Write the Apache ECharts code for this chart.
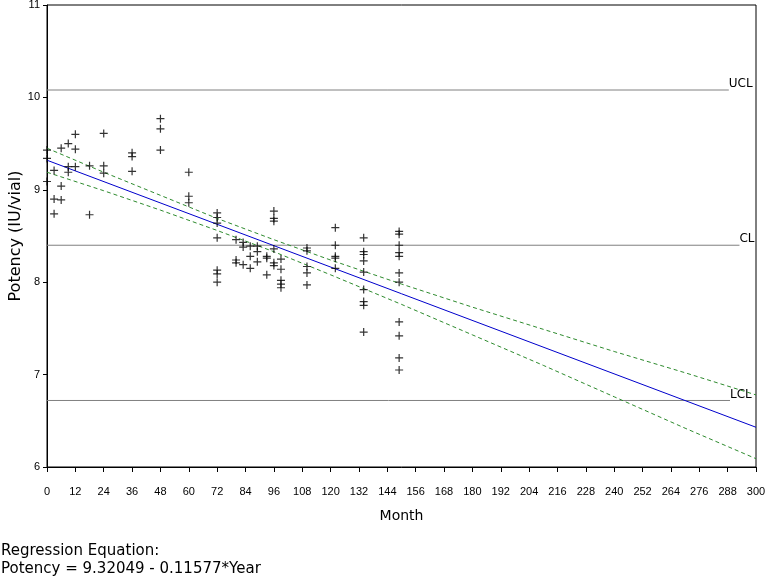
<!DOCTYPE html>
<html>
<head>
<meta charset="utf-8">
<script src="https://cdn.jsdelivr.net/npm/echarts@6/dist/echarts.min.js"></script>
<style>html,body{margin:0;padding:0;background:#fff;}#c{width:768px;height:576px;}</style>
</head>
<body>
<div id="c"></div>
<script>
// Observed potency measurements [month, IU/vial]
const observations = [
  [0,9.43],[0,9.34],[0,9.09],
  [3,9.21],[3,8.90],[3,8.74],
  [6,9.45],[6,9.04],[6,8.89],
  [9,9.50],[9,9.25],[9,9.19],
  [12,9.60],[12,9.44],[12,9.25],
  [18,9.26],[18,8.73],
  [24,9.61],[24,9.26],[24,9.18],
  [36,9.40],[36,9.36],[36,9.20],
  [48,9.77],[48,9.66],[48,9.43],
  [60,9.19],[60,8.93],[60,8.86],
  [72,8.75],[72,8.70],[72,8.64],[72,8.48],[72,8.13],[72,8.09],[72,8.00],
  [80,8.46],[80,8.24],[80,8.21],
  [83,8.43],[83,8.38],[83,8.19],
  [86,8.39],[86,8.28],[86,8.15],
  [89,8.39],[89,8.33],[89,8.22],
  [93,8.28],[93,8.26],[93,8.08],
  [96,8.77],[96,8.69],[96,8.66],[96,8.36],[96,8.21],[96,8.18],
  [99,8.25],[99,8.14],[99,8.02],[99,7.98],[99,7.94],
  [110,8.37],[110,8.34],[110,8.17],[110,8.10],[110,7.97],
  [122,8.59],[122,8.40],[122,8.28],[122,8.26],[122,8.15],
  [134,8.48],[134,8.33],[134,8.30],[134,8.23],[134,8.11],[134,7.92],[134,7.79],[134,7.75],[134,7.46],
  [149,8.55],[149,8.52],[149,8.40],[149,8.32],[149,8.28],[149,8.10],[149,8.00],[149,7.57],[149,7.42],[149,7.18],[149,7.05]
];
// Regression line endpoints
const fitLine = [[0,9.32],[300,6.43]];
// Confidence band
const bandMonths = [0,24,48,72,96,120,150,180,210,240,270,300];
const bandUpper  = [9.45,9.19,8.94,8.69,8.46,8.24,7.98,7.73,7.49,7.25,7.02,6.78];
const bandLower  = [9.19,8.99,8.78,8.56,8.33,8.08,7.76,7.43,7.10,6.76,6.42,6.09];
// Control limits
const limitNames  = ['UCL','CL','LCL'];
const limitValues = [10.08, 8.40, 6.72];
const xTicks = {min:0, max:300, interval:12};
const yTicks = {min:6, max:11, interval:1};

const FONT = 'DejaVu Sans';
const TICKFONT = 'Liberation Sans';
const chart = echarts.init(document.getElementById('c'), null, {renderer:'canvas'});
const plus = 'path://M3.4,0h1.2v8h-1.2zM0,3.4h8v1.2h-8z';
const limitEnds = [288.5, 293, 289];

const limitSeries = limitNames.map((n,i)=>({
  type:'line', silent:true, symbol:'none',
  data:[[0,limitValues[i]],[limitEnds[i],limitValues[i]]],
  lineStyle:{color:'#808080', width:1},
  endLabel:{show:true, formatter:n, color:'#000', fontFamily:FONT, fontSize:12, offset:[-1,-6], distance:1},
  z:1
}));

chart.setOption({
  animation:false,
  backgroundColor:'#fff',
  grid:{left:47, right:12, top:5, bottom:109, outerBoundsMode:'none', containLabel:false,
    show:true, borderColor:'#000', borderWidth:1, backgroundColor:'transparent'},
  xAxis:{
    type:'value', min:xTicks.min, max:xTicks.max, interval:xTicks.interval,
    name:'Month', nameLocation:'middle', nameGap:42,
    nameTextStyle:{fontFamily:FONT, fontSize:14, color:'#000'},
    axisLine:{lineStyle:{color:'#000'}},
    axisTick:{show:true, length:5, lineStyle:{color:'#000'}},
    axisLabel:{margin:19, color:'#000', fontFamily:TICKFONT, fontSize:11},
    splitLine:{show:false}
  },
  yAxis:{
    type:'value', min:yTicks.min, max:yTicks.max, interval:yTicks.interval,
    name:'Potency (IU/vial)', nameLocation:'middle', nameGap:23, nameRotate:90, nameMoveOverlap:false,
    nameTextStyle:{fontFamily:FONT, fontSize:16, color:'#000'},
    axisLine:{show:true, lineStyle:{color:'#000'}},
    axisTick:{show:true, length:4, lineStyle:{color:'#000'}},
    axisLabel:{margin:7, color:'#000', fontFamily:TICKFONT, fontSize:11},
    splitLine:{show:false}
  },
  graphic:[
    {type:'text', left:1, top:544, style:{text:'Regression Equation:', font:'15px "DejaVu Sans"', fill:'#000'}},
    {type:'text', left:1, top:562, style:{text:'Potency = 9.32049 - 0.11577*Year', font:'15px "DejaVu Sans"', fill:'#000'}}
  ],
  series:[
    ...limitSeries,
    {type:'line', symbol:'none', data:bandMonths.map((m,i)=>[m,bandUpper[i]]),
      lineStyle:{color:'#2E8B2E', width:1, type:[4,3]}, z:2},
    {type:'line', symbol:'none', data:bandMonths.map((m,i)=>[m,bandLower[i]]),
      lineStyle:{color:'#2E8B2E', width:1, type:[4,3]}, z:2},
    {type:'line', symbol:'none', data:fitLine, lineStyle:{color:'#0000CC', width:1}, z:3},
    {type:'scatter', data:observations, symbol:plus, symbolSize:8,
      itemStyle:{color:'#000'}, z:4}
  ]
});
</script>
</body>
</html>
